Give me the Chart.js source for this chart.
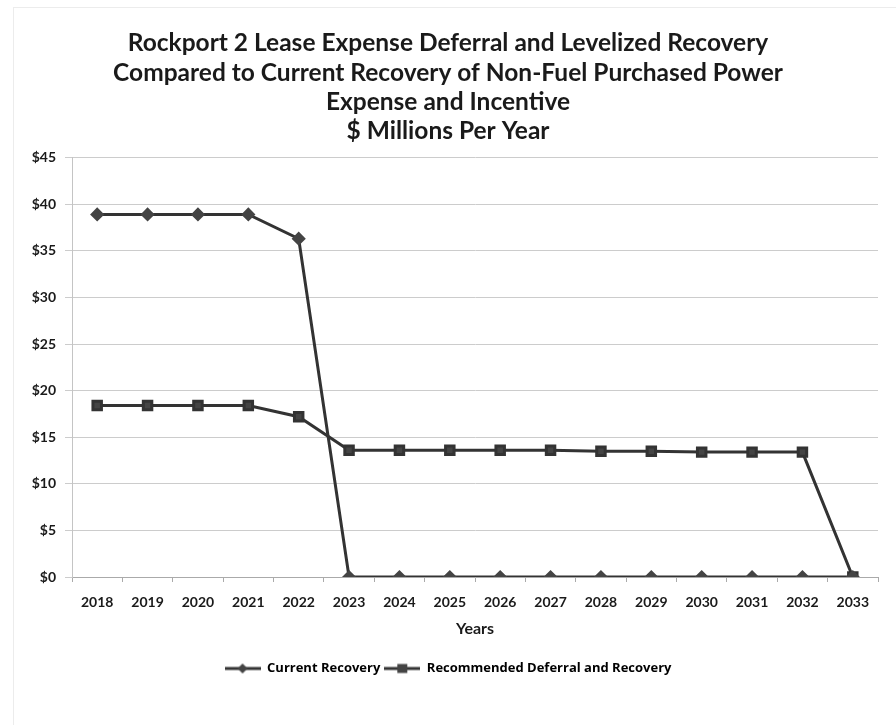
<!DOCTYPE html>
<html>
<head>
<meta charset="utf-8">
<script src="https://cdn.jsdelivr.net/npm/chart.js@4.4.1/dist/chart.umd.min.js"></script>
<style>
  html, body { margin: 0; padding: 0; background: #fff; }
  #box { width: 896px; height: 725px; position: relative; }
  #marco { position: absolute; left: 13px; top: 7px; right: 0; bottom: 0;
           border-left: 1px solid #ececec; border-top: 1px solid #ececec; pointer-events: none; }
</style>
</head>
<body>
<div id="box"><canvas id="grafico"></canvas><div id="marco"></div></div>
<script>
// Datos ($ millones por año)
const anios = ['2018','2019','2020','2021','2022','2023','2024','2025','2026','2027','2028','2029','2030','2031','2032','2033'];
const recuperacionActual = [38.9, 38.9, 38.9, 38.9, 36.3, 0, 0, 0, 0, 0, 0, 0, 0, 0, 0, 0];
const diferimientoRecomendado = [18.4, 18.4, 18.4, 18.4, 17.2, 13.6, 13.6, 13.6, 13.6, 13.6, 13.5, 13.5, 13.4, 13.4, 13.4, 0];
const titulo = [
  'Rockport 2 Lease Expense Deferral and Levelized Recovery',
  'Compared to Current Recovery of Non-Fuel Purchased Power',
  'Expense and Incentive',
  '$ Millions Per Year'
];

const colorLinea = '#333333';
const colorMarca = '#444444';
const fuente = 'Lato, "Open Sans", sans-serif';

// Icono de leyenda: línea con marcador en el centro
function iconoLeyenda(forma) {
  const c = document.createElement('canvas');
  c.width = 36; c.height = 12;
  const g = c.getContext('2d');
  g.strokeStyle = colorLinea;
  g.lineWidth = 3;
  g.beginPath(); g.moveTo(0, 6); g.lineTo(36, 6); g.stroke();
  g.fillStyle = colorMarca;
  if (forma === 'rombo') {
    g.beginPath(); g.moveTo(18, 1); g.lineTo(23, 6); g.lineTo(18, 11); g.lineTo(13, 6); g.closePath(); g.fill();
  } else {
    g.fillRect(13, 1.5, 10, 9);
  }
  return c;
}

const ctx = document.getElementById('grafico').getContext('2d');
new Chart(ctx, {
  type: 'line',
  data: {
    labels: anios,
    datasets: [{
      label: 'Current Recovery',
      data: recuperacionActual,
      borderColor: colorLinea,
      backgroundColor: colorMarca,
      borderWidth: 3,
      pointStyle: 'rectRot',
      pointRadius: 5,
      pointBackgroundColor: colorMarca,
      pointBorderColor: colorMarca,
      tension: 0
    }, {
      label: 'Recommended Deferral and Recovery',
      data: diferimientoRecomendado,
      borderColor: colorLinea,
      backgroundColor: colorMarca,
      borderWidth: 3,
      pointStyle: 'rect',
      pointRadius: 6,
      pointBackgroundColor: colorMarca,
      pointBorderColor: '#333',
      tension: 0
    }]
  },
  options: {
    responsive: true,
    maintainAspectRatio: false,
    animation: false,
    layout: { padding: { left: 0, right: 0, top: 0, bottom: 40 } },
    plugins: {
      title: {
        display: true,
        text: titulo,
        color: '#1a1a1a',
        font: { family: fuente, size: 24.5, weight: 'bold', lineHeight: 1.19 },
        padding: { top: 29, bottom: 12 }
      },
      legend: {
        position: 'bottom',
        labels: {
          color: '#222',
          font: { family: '"Open Sans", Lato, sans-serif', size: 13, weight: 'bold' },
          usePointStyle: true,
          pointStyleWidth: 36,
          boxHeight: 12,
          padding: 4,
          generateLabels: function(chart) {
            return chart.data.datasets.map((ds, i) => ({
              text: ds.label,
              pointStyle: iconoLeyenda(i === 0 ? 'rombo' : 'cuadro'),
              fillStyle: colorMarca,
              strokeStyle: colorLinea,
              lineWidth: 0,
              datasetIndex: i
            }));
          }
        }
      },
      tooltip: { enabled: false }
    },
    scales: {
      x: {
        offset: true,
        grid: { display: true, drawOnChartArea: false, offset: true, tickLength: 5, color: '#aaa' },
        border: { color: '#aaa' },
        ticks: { color: '#1a1a1a', font: { family: fuente, size: 14, weight: 'bold' }, padding: 12, maxRotation: 0 },
        title: {
          display: true,
          text: 'Years',
          color: '#1a1a1a',
          font: { family: fuente, size: 16, weight: 'bold' },
          padding: { top: -4, bottom: 20 }
        }
      },
      y: {
        min: 0,
        max: 45,
        afterFit: function(escala) { escala.width = 72; },
        grid: { color: '#cccccc', tickLength: 7 },
        border: { display: true, color: '#c4c4c4' },
        ticks: {
          stepSize: 5,
          color: '#1a1a1a',
          font: { family: fuente, size: 14, weight: 'bold' },
          padding: 9,
          callback: v => '$' + v
        }
      },
      // eje derecho vacío, solo reserva el margen del lado derecho
      margenDerecho: {
        type: 'linear',
        position: 'right',
        display: true,
        afterFit: function(escala) { escala.width = 18; },
        grid: { display: false },
        border: { display: false },
        ticks: { display: false }
      }
    }
  }
});
</script>
</body>
</html>
